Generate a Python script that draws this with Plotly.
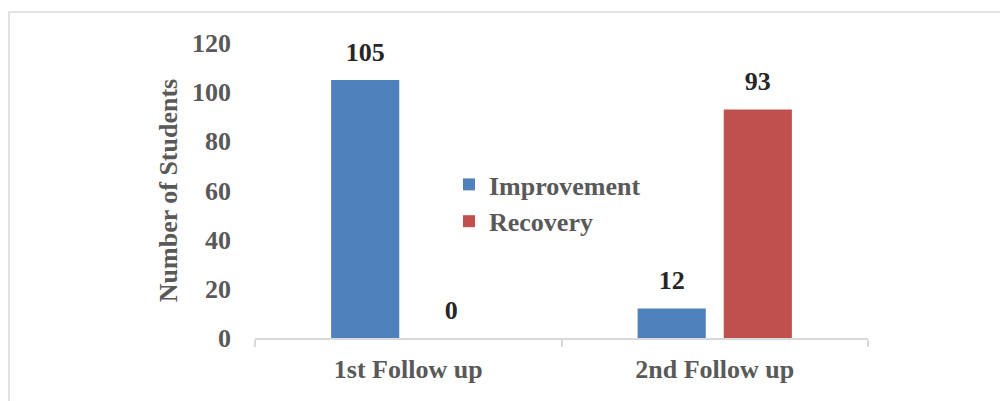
import plotly.graph_objects as go

categories = ["1st Follow up", "2nd Follow up"]
improvement = [105, 12]
recovery = [0, 93]
series_names = ["Improvement", "Recovery"]
y_ticks = [0, 20, 40, 60, 80, 100, 120]

FONT = "Liberation Serif, Times New Roman, serif"
GRAY = "#595959"
FS = 26
OFF = 8  # default page body margin

W, H = 1000, 393
L, R, T = 255 - OFF, 140, 43 - OFF
B = H - (338 - OFF)
pw, ph = W - L - R, H - T - B


def px_x(x):
    return (x - OFF - L) / pw


def px_y(y):
    return (H - B - (y - OFF)) / ph


fig = go.Figure()
for i, (name, vals, col) in enumerate([(series_names[0], improvement, "#4F81BD"),
                                        (series_names[1], recovery, "#C0504D")]):
    fig.add_trace(go.Bar(name=name, x=categories, y=vals, offsetgroup=str(i),
                         marker=dict(color=col, line=dict(width=0))))
for i, vals in enumerate([improvement, recovery]):
    fig.add_trace(go.Scatter(x=categories, y=vals, offsetgroup=str(i),
                             mode="markers+text", text=[str(v) for v in vals],
                             textposition="top center",
                             textfont=dict(family=FONT, size=FS, color="#262626", weight="bold"),
                             marker=dict(size=19, opacity=0), showlegend=False,
                             hoverinfo="skip", cliponaxis=False))

fig.update_layout(
    width=W, height=H,
    margin=dict(l=L, r=R, t=T, b=B, autoexpand=False),
    paper_bgcolor="white", plot_bgcolor="white",
    barmode="group", bargap=0.438, bargroupgap=0.209,
    scattermode="group", scattergap=0.438,
    font=dict(family=FONT, size=FS, color=GRAY, weight="bold"),
    showlegend=True,
    legend=dict(x=px_x(449), y=px_y(161), xanchor="left", yanchor="top",
                bgcolor="rgba(0,0,0,0)",
                font=dict(family=FONT, size=FS, color=GRAY, weight="bold"),
                traceorder="normal", itemwidth=30),
    shapes=[dict(type="rect", xref="paper", yref="paper",
                 x0=px_x(9), x1=px_x(1020), y0=px_y(420), y1=px_y(12),
                 line=dict(color="#d9d9d9", width=1.5), fillcolor="rgba(0,0,0,0)",
                 layer="below")],
)
fig.update_xaxes(
    type="category", range=[-0.5, 1.5],
    showline=True, linecolor="#d9d9d9", linewidth=1.5,
    ticks="outside", tickson="boundaries", ticklen=7, tickcolor="#d9d9d9", tickwidth=1.5,
    showgrid=False, zeroline=False,
    tickfont=dict(family=FONT, size=FS, color=GRAY, weight="bold"),
    ticklabelstandoff=7,
)
fig.update_yaxes(
    range=[0, 120], tickvals=y_ticks,
    showgrid=False, zeroline=False, showline=False, ticks="",
    tickfont=dict(family=FONT, size=FS, color=GRAY, weight="bold"),
    title=dict(text="Number of Students",
               font=dict(family=FONT, size=FS, color=GRAY, weight="bold"), standoff=6),
    ticklabelstandoff=23,
)

fig.write_html("out.html")
